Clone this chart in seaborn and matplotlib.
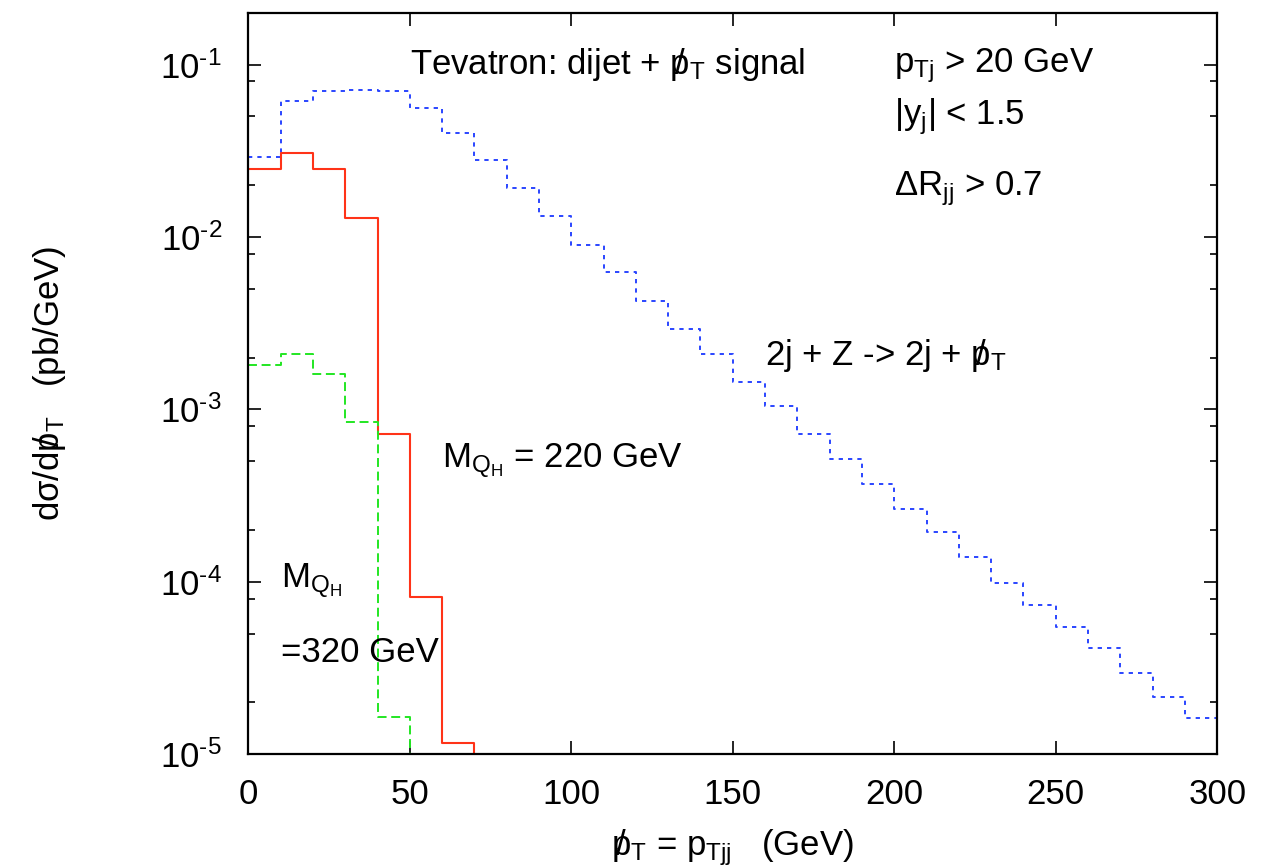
import numpy as np
import pandas as pd
import matplotlib
matplotlib.use("Agg")
import matplotlib.pyplot as plt
import seaborn as sns
from matplotlib.ticker import FixedLocator, FuncFormatter, NullFormatter, LogLocator

# ---- data (bin edges in GeV, dsigma/dpT in pb/GeV) ----
bin_edges = list(range(0, 310, 10))
bg_2jZ = [0.0290, 0.0613, 0.0707, 0.0712, 0.0703, 0.0561, 0.0402, 0.0281, 0.0192, 0.0132,
          0.00902, 0.00624, 0.00424, 0.00294, 0.00210, 0.00145, 0.00104, 0.000721, 0.000517, 0.000369,
          0.000264, 0.000195, 0.0001397, 9.84e-5, 7.37e-5, 5.47e-5, 4.12e-5, 2.96e-5, 2.16e-5, 1.62e-5]
sig_m220 = [0.0249, 0.0308, 0.0247, 0.01295, 0.000723, 8.2e-5, 1.16e-5, 3e-6]
sig_m320 = [0.0018, 0.00209, 0.00161, 0.00084, 1.64e-5, 3e-6]

y_major = [1e-5, 1e-4, 1e-3, 1e-2, 1e-1]
x_ticks = [0, 50, 100, 150, 200, 250, 300]

sns.set_style("ticks")
plt.rcParams["font.family"] = ["Liberation Sans", "DejaVu Sans"]
plt.rcParams["mathtext.fontset"] = "custom"
plt.rcParams["mathtext.rm"] = "Liberation Sans"
plt.rcParams["mathtext.it"] = "Liberation Sans:italic"
plt.rcParams["mathtext.bf"] = "Liberation Sans:bold"
plt.rcParams["mathtext.default"] = "regular"
for key in ["text.color", "axes.labelcolor", "xtick.color", "ytick.color", "axes.edgecolor"]:
    plt.rcParams[key] = "black"

FS = 25
PT = r"\,/\!\!\!p_{T}"

fig, ax = plt.subplots(figsize=(12.82, 8.68), dpi=100)
fig.subplots_adjust(left=0.1937, right=0.9495, bottom=0.131, top=0.9854)


def steps(vals):
    n = len(vals)
    return pd.DataFrame({"x": bin_edges[: n + 1], "y": list(vals) + [vals[-1]]})


d = steps(bg_2jZ)
sns.lineplot(data=d, x="x", y="y", ax=ax, drawstyle="steps-post", color="#2a45ff",
             linestyle=(0, (2.2, 2.6)), linewidth=1.4, sort=False)
d = steps(sig_m220)
sns.lineplot(data=d, x="x", y="y", ax=ax, drawstyle="steps-post", color="#ff3318",
             linestyle="-", linewidth=1.5, sort=False)
d = steps(sig_m320)
sns.lineplot(data=d, x="x", y="y", ax=ax, drawstyle="steps-post", color="#22e622",
             linestyle=(0, (4.6, 2.4)), linewidth=1.4, sort=False)

ax.set_yscale("log")
ax.set_xlim(0, 300)
ax.set_ylim(1e-5, 0.2)

ax.xaxis.set_major_locator(FixedLocator(x_ticks))
ax.yaxis.set_major_locator(FixedLocator(y_major))
ax.yaxis.set_minor_locator(LogLocator(base=10, subs=(2.0, 5.0, 8.0), numticks=20))
ax.yaxis.set_minor_formatter(NullFormatter())
ax.yaxis.set_major_formatter(FuncFormatter(lambda v, p: "10$^{\u2010%d}$" % int(round(-np.log10(v)))))
ax.xaxis.set_major_formatter(FuncFormatter(lambda v, p: "%d" % v))

for s in ax.spines.values():
    s.set_visible(True)
    s.set_linewidth(1.6)
    s.set_color("black")
ax.tick_params(axis="both", which="both", direction="in", top=True, right=True, colors="black")
ax.tick_params(axis="both", which="major", length=9.5, width=1.2, labelsize=FS)
ax.tick_params(axis="y", which="minor", length=5, width=1.2)
ax.tick_params(axis="y", which="major", pad=19)
ax.tick_params(axis="x", which="major", pad=17)
ax.grid(False)

ax.set_xlabel(PT.join(["$", "$"]) + " = $p_{Tjj}$   (GeV)", fontsize=FS, labelpad=12)
ax.set_ylabel("dσ/d" + PT.join(["$", "$"]) + "   (pb/GeV)", fontsize=FS, labelpad=66)

ax.text(50, 0.0887, "Tevatron: dijet + $" + PT + "$ signal", fontsize=FS, va="baseline")
ax.text(200, 0.0899, "$p_{Tj}$ > 20 GeV", fontsize=FS, va="baseline")
ax.text(200, 0.0449, "|$y_{j}$| < 1.5", fontsize=FS, va="baseline")
ax.text(200, 0.0174, "Δ$R_{jj}$ > 0.7", fontsize=FS, va="baseline")
ax.text(160, 0.0018, "2j + Z -> 2j + $" + PT + "$", fontsize=FS, va="baseline")
ax.text(60, 0.000462, "$M_{Q_{H}}$ = 220 GeV", fontsize=FS, va="baseline")
ax.text(10, 9.3e-5, "$M_{Q_{H}}$", fontsize=FS, va="baseline")
ax.text(10, 3.44e-5, "=320 GeV", fontsize=FS, va="baseline")

fig.savefig("out.png", dpi=100)
